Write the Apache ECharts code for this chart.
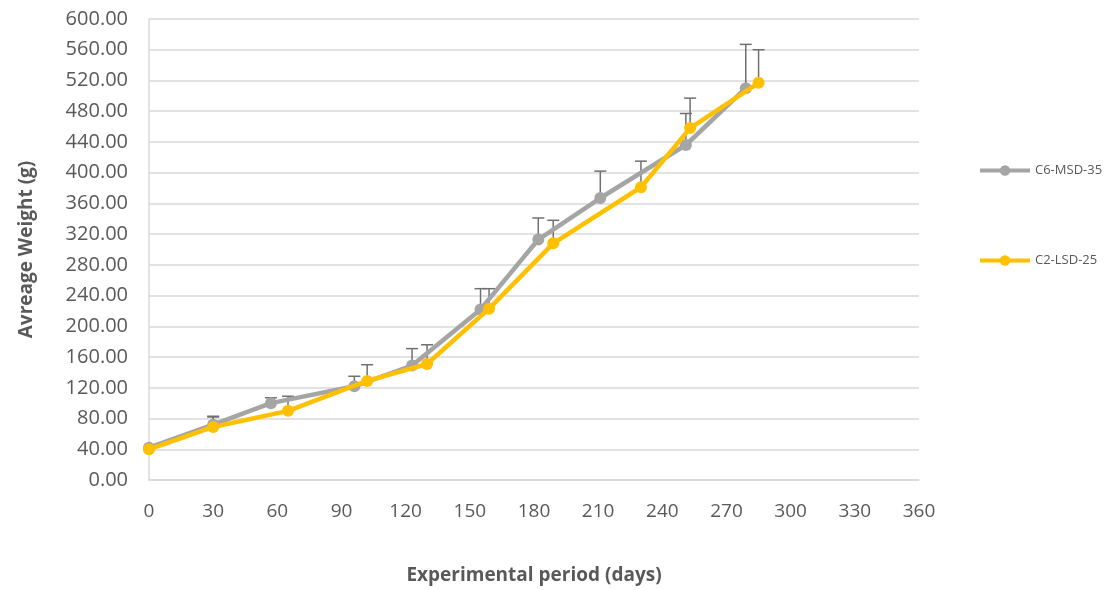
<!DOCTYPE html>
<html>
<head>
<meta charset="utf-8">
<script src="https://cdn.jsdelivr.net/npm/echarts@6/dist/echarts.min.js"></script>
<style>
  html, body { margin: 0; padding: 0; background: #fff; }
  #chart { width: 1115px; height: 590px; }
</style>
</head>
<body>
<div id="chart"></div>
<script>
// C6-MSD-35 (grey)
const days6 = [0, 30, 57, 96, 123, 155, 182, 211, 251, 279]
const weight6 = [42, 72, 100, 122, 149, 222, 313, 367, 436, 510]
const err6 = [0, 11, 7, 13, 22, 27, 28, 35, 41, 57]

// C2-LSD-25 (yellow)
const days2 = [0, 30, 65, 102, 130, 159, 189, 230, 253, 285]
const weight2 = [40, 69, 90, 129, 151, 223, 308, 381, 458, 517]
const err2 = [0, 13, 19, 21, 25, 26, 30, 34, 39, 43]

const font = 'Open Sans'
const textGrey = '#595959'

function pairs(xs, ys, es) {
    return xs.map((x, i) => es ? [x, ys[i], es[i]] : [x, ys[i]])
}

// error bar: vertical line from value up to value+err with a cap
function renderErr(params, api) {
    const x = api.value(0)
    const y = api.value(1)
    const e = api.value(2)
    if (!e) return
    const p0 = api.coord([x, y])
    const p1 = api.coord([x, y + e])
    const half = 6
    return {
        type: 'group',
        children: [
            { type: 'line', shape: { x1: p0[0], y1: p0[1], x2: p1[0], y2: p1[1] },
              style: { stroke: '#707070', lineWidth: 1.5 } },
            { type: 'line', shape: { x1: p1[0] - half, y1: p1[1], x2: p1[0] + half, y2: p1[1] },
              style: { stroke: '#707070', lineWidth: 1.5 } }
        ]
    }
}

const chart = echarts.init(document.getElementById('chart'))
chart.setOption({
    animation: false,
    textStyle: { fontFamily: font },
    grid: { left: 149, right: 196, top: 19, bottom: 109 },
    legend: {
        orient: 'vertical',
        left: 973,
        top: 159,
        itemGap: 77,
        itemWidth: 50,
        itemHeight: 13,
        lineStyle: { width: 4 },
        textStyle: { color: textGrey, fontSize: 13, fontFamily: font },
        data: ['C6-MSD-35', 'C2-LSD-25']
    },
    xAxis: {
        type: 'value',
        min: 0,
        max: 360,
        interval: 30,
        name: 'Experimental period (days)',
        nameLocation: 'middle',
        nameGap: 86,
        nameTextStyle: { color: textGrey, fontSize: 19, fontWeight: 'bold', fontFamily: font },
        axisLine: { show: true, lineStyle: { color: '#d9d9d9', width: 1.5 } },
        axisTick: { show: false },
        splitLine: { show: false },
        axisLabel: { color: textGrey, fontSize: 19, margin: 22 }
    },
    yAxis: {
        type: 'value',
        min: 0,
        max: 600,
        interval: 40,
        name: 'Avreage Weight (g)',
        nameLocation: 'middle',
        nameGap: 113,
        nameTextStyle: { color: textGrey, fontSize: 19, fontWeight: 'bold', fontFamily: font },
        axisLine: { show: true, lineStyle: { color: '#d9d9d9', width: 1.5 } },
        axisTick: { show: false },
        splitLine: { show: true, lineStyle: { color: '#d9d9d9', width: 1.5 } },
        axisLabel: { color: textGrey, fontSize: 20, margin: 21, formatter: v => v.toFixed(2) }
    },
    series: [
        {
            name: 'C6-MSD-35',
            type: 'line',
            data: pairs(days6, weight6),
            symbol: 'circle',
            symbolSize: 12,
            lineStyle: { color: '#a5a5a5', width: 4.5 },
            itemStyle: { color: '#a5a5a5' },
            z: 3
        },
        {
            name: 'C2-LSD-25',
            type: 'line',
            data: pairs(days2, weight2),
            symbol: 'circle',
            symbolSize: 12,
            lineStyle: { color: '#ffc000', width: 4.5 },
            itemStyle: { color: '#ffc000' },
            z: 4
        },
        {
            type: 'custom',
            renderItem: renderErr,
            data: pairs(days6, weight6, err6),
            z: 2
        },
        {
            type: 'custom',
            renderItem: renderErr,
            data: pairs(days2, weight2, err2),
            z: 2
        }
    ]
})
</script>
</body>
</html>
